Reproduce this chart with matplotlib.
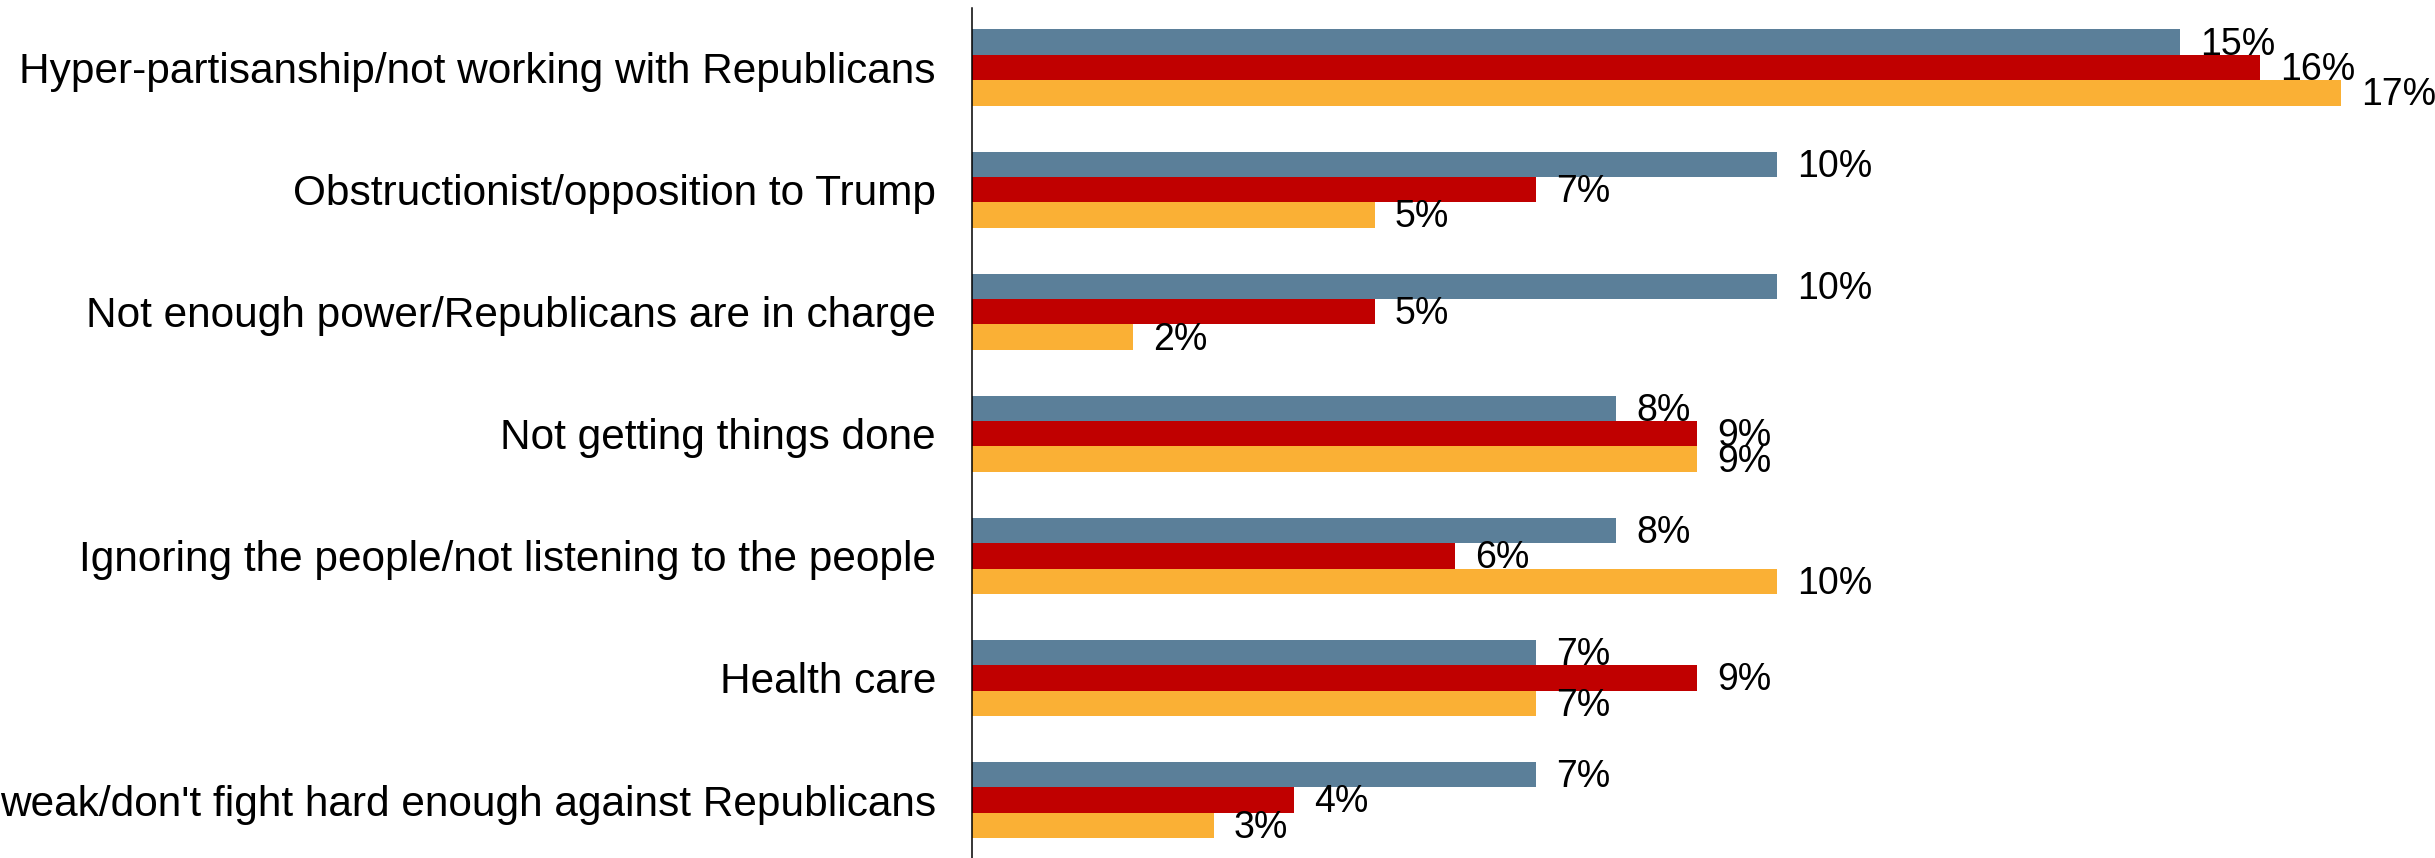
import numpy as np
import matplotlib
matplotlib.use("Agg")
from matplotlib import pyplot as plt

plt.rcParams['font.family'] = ['Liberation Sans', 'DejaVu Sans']

categories = [
    "Hyper-partisanship/not working with Republicans",
    "Obstructionist/opposition to Trump",
    "Not enough power/Republicans are in charge",
    "Not getting things done",
    "Ignoring the people/not listening to the people",
    "Health care",
    "weak/don't fight hard enough against Republicans",
]
series_blue = [15, 10, 10, 8, 8, 7, 7]
series_red = [16, 7, 5, 9, 6, 9, 4]
series_orange = [17, 5, 2, 9, 10, 7, 3]

colors = ["#5B7F99", "#C00000", "#FAB035"]

fig = plt.figure(figsize=(24.35, 8.58), dpi=100)
ax = fig.add_axes([972 / 2435, 0.0, 1 - 972 / 2435, 1 - 8 / 858])

y = np.arange(len(categories))
h = 0.208
for k, (vals, c) in enumerate(zip([series_blue, series_red, series_orange], colors)):
    pos = y + (k - 1) * h
    ax.barh(pos, vals, height=h, color=c)
    for p, v in zip(pos, vals):
        ax.text(v + 0.25, p + 0.02, f"{v}%", ha='left', va='center', fontsize=27)

ax.set_xlim(0, 18.17)
ax.set_ylim(6.475, -0.488)
ax.set_yticks(y)
ax.set_yticklabels(categories, fontsize=30.5)
ax.tick_params(axis='y', length=0, pad=26)
ax.set_xticks([])
for s in ['top', 'right', 'bottom']:
    ax.spines[s].set_visible(False)
ax.spines['left'].set_linewidth(1.1)

fig.savefig("out.png", dpi=100)
